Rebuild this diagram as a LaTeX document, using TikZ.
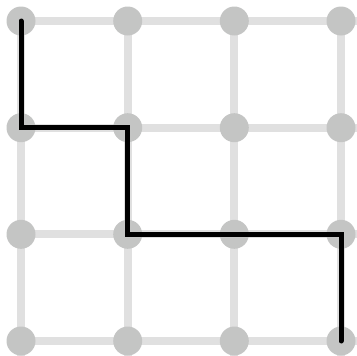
\documentclass[tikz,border=0pt]{standalone}
\definecolor{gridline}{HTML}{E0E0E0}
\definecolor{dotgray}{HTML}{C4C5C4}
\tikzset{
  gridln/.style={draw=gridline, line width=8pt},
  dotnode/.style={circle, fill=dotgray, minimum size=29pt, inner sep=0pt},
  pathln/.style={draw=black, line width=5pt, line cap=round, line join=miter}
}
\begin{document}
\begin{tikzpicture}[x=1pt,y=-1pt]
\useasboundingbox (0,0) rectangle (357,356);
\begin{scope}
\clip (0,0) rectangle (357,356);
\foreach \i/\v in {0/21,1/127.7,2/234.3,3/341}{
  \coordinate (h\i) at (21,\v);
  \coordinate (he\i) at (360,\v);
  \coordinate (v\i) at (\v,21);
  \coordinate (ve\i) at (\v,360);
  \draw[gridln] (h\i) -- (he\i);
  \draw[gridln] (v\i) -- (ve\i);
}
\foreach \c/\x in {0/21,1/127.7,2/234.3,3/341}{
  \foreach \r/\y in {0/21,1/127.7,2/234.3,3/341}{
    \node[dotnode] (d\c\r) at (\x,\y) {};
  }
}
\draw[pathln] (d00.center) -- (d01.center) -- (d11.center) -- (d12.center) -- (d32.center) -- (d33.center);
\end{scope}
\end{tikzpicture}
\end{document}
